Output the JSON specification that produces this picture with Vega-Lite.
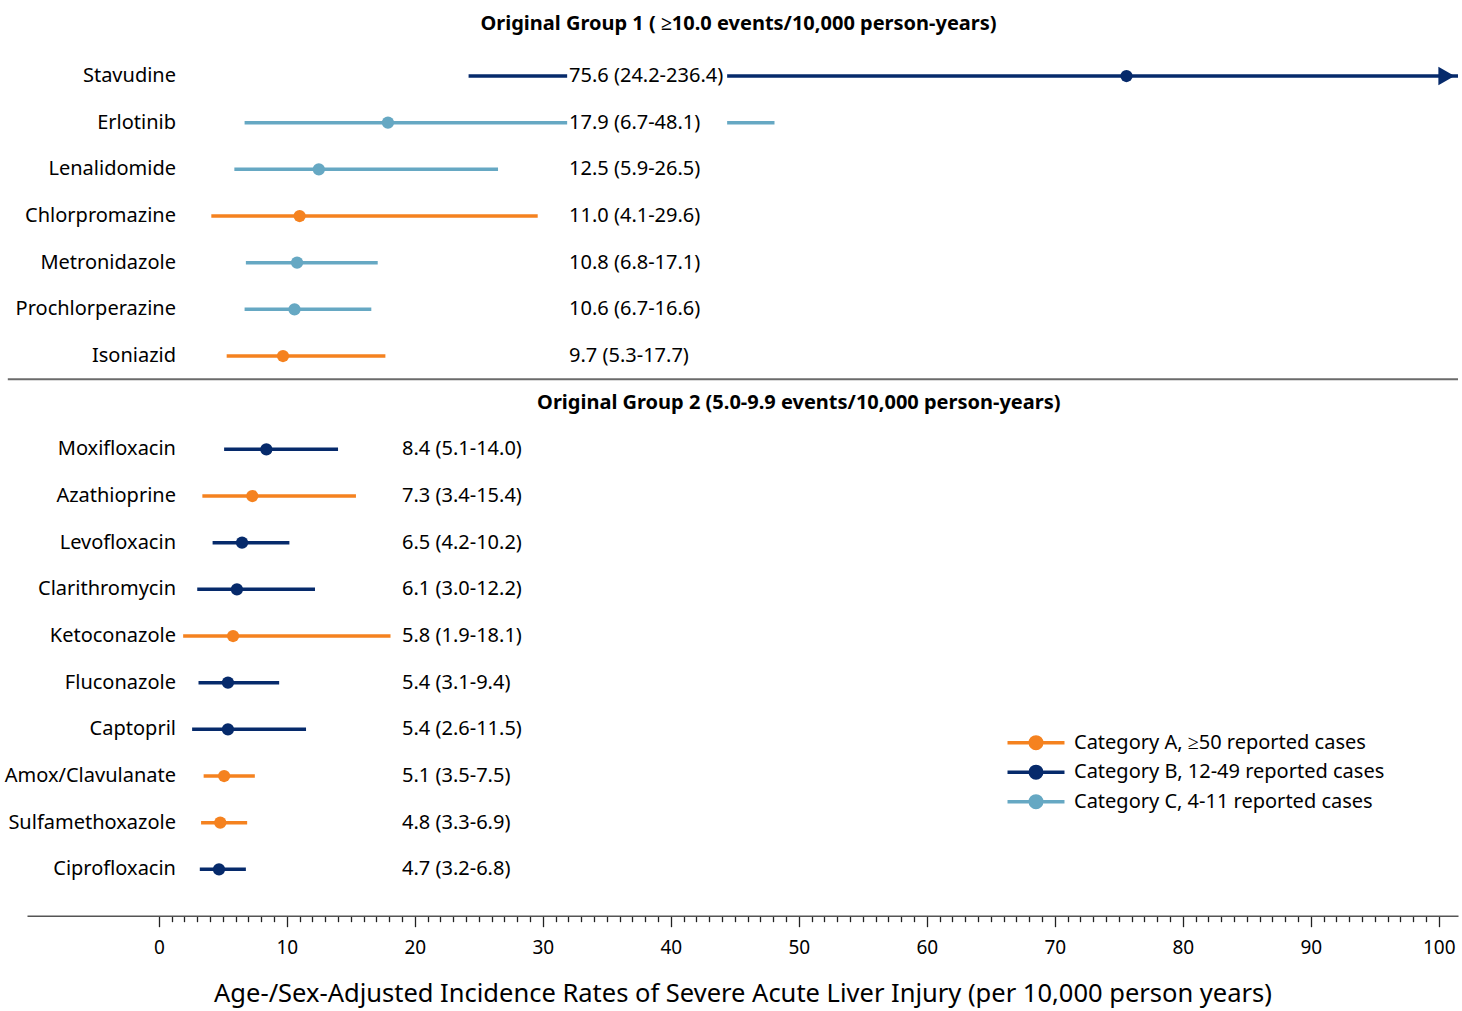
{
  "$schema": "https://vega.github.io/schema/vega-lite/v6.json",
  "width": 1431,
  "height": 840,
  "autosize": {"type": "none"},
  "padding": {"left": 27, "top": 52.67, "right": 4, "bottom": 118.33},
  "background": "white",
  "config": {
    "font": "Noto Sans",
    "view": {"stroke": null},
    "text": {"color": "black"}
  },
  "title": {
    "text": "Original Group 1 ( ≥10.0 events/10,000 person-years)",
    "fontSize": 20,
    "fontWeight": "bold",
    "color": "black",
    "anchor": "middle",
    "offset": 19,
    "dx": -4
  },
  "data": {
    "values": [
      {"drug": "Stavudine", "group": 1, "category": "Category B, 12-49 reported cases", "rate": 75.6, "lo": 24.2, "hi": 236.4},
      {"drug": "Erlotinib", "group": 1, "category": "Category C, 4-11 reported cases", "rate": 17.9, "lo": 6.7, "hi": 48.1},
      {"drug": "Lenalidomide", "group": 1, "category": "Category C, 4-11 reported cases", "rate": 12.5, "lo": 5.9, "hi": 26.5},
      {"drug": "Chlorpromazine", "group": 1, "category": "Category A, ≥50 reported cases", "rate": 11.0, "lo": 4.1, "hi": 29.6},
      {"drug": "Metronidazole", "group": 1, "category": "Category C, 4-11 reported cases", "rate": 10.8, "lo": 6.8, "hi": 17.1},
      {"drug": "Prochlorperazine", "group": 1, "category": "Category C, 4-11 reported cases", "rate": 10.6, "lo": 6.7, "hi": 16.6},
      {"drug": "Isoniazid", "group": 1, "category": "Category A, ≥50 reported cases", "rate": 9.7, "lo": 5.3, "hi": 17.7},
      {"drug": "Moxifloxacin", "group": 2, "category": "Category B, 12-49 reported cases", "rate": 8.4, "lo": 5.1, "hi": 14.0},
      {"drug": "Azathioprine", "group": 2, "category": "Category A, ≥50 reported cases", "rate": 7.3, "lo": 3.4, "hi": 15.4},
      {"drug": "Levofloxacin", "group": 2, "category": "Category B, 12-49 reported cases", "rate": 6.5, "lo": 4.2, "hi": 10.2},
      {"drug": "Clarithromycin", "group": 2, "category": "Category B, 12-49 reported cases", "rate": 6.1, "lo": 3.0, "hi": 12.2},
      {"drug": "Ketoconazole", "group": 2, "category": "Category A, ≥50 reported cases", "rate": 5.8, "lo": 1.9, "hi": 18.1},
      {"drug": "Fluconazole", "group": 2, "category": "Category B, 12-49 reported cases", "rate": 5.4, "lo": 3.1, "hi": 9.4},
      {"drug": "Captopril", "group": 2, "category": "Category B, 12-49 reported cases", "rate": 5.4, "lo": 2.6, "hi": 11.5},
      {"drug": "Amox/Clavulanate", "group": 2, "category": "Category A, ≥50 reported cases", "rate": 5.1, "lo": 3.5, "hi": 7.5},
      {"drug": "Sulfamethoxazole", "group": 2, "category": "Category A, ≥50 reported cases", "rate": 4.8, "lo": 3.3, "hi": 6.9},
      {"drug": "Ciprofloxacin", "group": 2, "category": "Category B, 12-49 reported cases", "rate": 4.7, "lo": 3.2, "hi": 6.8}
    ]
  },
  "transform": [
    {"calculate": "format(datum.rate, '.1f') + ' (' + format(datum.lo, '.1f') + '-' + format(datum.hi, '.1f') + ')'", "as": "label"}
  ],
  "layer": [
    {
      "transform": [{"filter": "datum.drug === 'Isoniazid'"}],
      "mark": {"type": "rule", "color": "#6b6b6b", "strokeWidth": 2},
      "encoding": {
        "y": {
          "field": "drug",
          "type": "nominal",
          "bandPosition": 1,
          "scale": {
            "domain": ["Stavudine", "Erlotinib", "Lenalidomide", "Chlorpromazine", "Metronidazole", "Prochlorperazine", "Isoniazid",
                       "Original Group 2 (5.0-9.9 events/10,000 person-years)",
                       "Moxifloxacin", "Azathioprine", "Levofloxacin", "Clarithromycin", "Ketoconazole", "Fluconazole", "Captopril", "Amox/Clavulanate", "Sulfamethoxazole", "Ciprofloxacin"],
            "paddingInner": 0,
            "paddingOuter": 0
          },
          "axis": null
        },
        "x": {
          "datum": -11.8,
          "type": "quantitative",
          "scale": {"domain": [-10.3, 101.5], "nice": false, "zero": false},
          "axis": {
            "title": "Age-/Sex-Adjusted Incidence Rates of Severe Acute Liver Injury (per 10,000 person years)",
            "titleFontSize": 25.5,
            "titleFontWeight": "normal",
            "titleColor": "black",
            "titlePadding": 24,
            "values": [0,1,2,3,4,5,6,7,8,9,10,11,12,13,14,15,16,17,18,19,20,21,22,23,24,25,26,27,28,29,30,31,32,33,34,35,36,37,38,39,40,41,42,43,44,45,46,47,48,49,50,51,52,53,54,55,56,57,58,59,60,61,62,63,64,65,66,67,68,69,70,71,72,73,74,75,76,77,78,79,80,81,82,83,84,85,86,87,88,89,90,91,92,93,94,95,96,97,98,99,100],
            "tickCount": 500,
            "format": "d",
            "labelExpr": "datum.value % 10 === 0 ? datum.label : ''",
            "labelFontSize": 19,
            "labelColor": "black",
            "labelPadding": 12,
            "labelOverlap": false,
            "labelFlush": false,
            "offset": 23,
            "domainColor": "#555555",
            "domainWidth": 1.5,
            "tickColor": "#222222",
            "tickWidth": 1.3,
            "tickSize": {"condition": {"test": "datum.value % 10 === 0", "value": 11}, "value": 6},
            "grid": false
          }
        },
        "x2": {"datum": 101.5}
      }
    },
    {
      "mark": {"type": "rule", "strokeWidth": 3.5, "clip": true},
      "encoding": {
        "y": {"field": "drug", "type": "nominal"},
        "x": {"field": "lo", "type": "quantitative"},
        "x2": {"field": "hi"},
        "color": {
          "field": "category",
          "type": "nominal",
          "scale": {
            "domain": ["Category A, ≥50 reported cases", "Category B, 12-49 reported cases", "Category C, 4-11 reported cases"],
            "range": ["#f5821f", "#062a6b", "#66a8c3"]
          },
          "legend": {
            "orient": "none",
            "legendX": 999,
            "legendY": 680,
            "title": null,
            "padding": 0,
            "labelFontSize": 20,
            "labelColor": "black",
            "labelLimit": 500,
            "labelOffset": 28,
            "rowPadding": 3.5,
            "symbolSize": 196,
            "symbolType": "M-4.07,0H4.07M0.82,0A0.82,0.82,0,1,1,-0.82,0A0.82,0.82,0,1,1,0.82,0Z",
            "symbolStrokeWidth": 3.5,
            "encode": {
              "symbols": {
                "update": {
                  "fill": {"scale": "color", "field": "value"},
                  "stroke": {"scale": "color", "field": "value"},
                  "strokeWidth": {"value": 3.5},
                  "opacity": {"value": 1},
                  "fillOpacity": {"value": 1},
                  "shape": {"value": "M-4.07,0H4.07M0.82,0A0.82,0.82,0,1,1,-0.82,0A0.82,0.82,0,1,1,0.82,0Z"},
                  "size": {"value": 196}
                }
              }
            }
          }
        }
      }
    },
    {
      "transform": [{"filter": "datum.group === 1 && datum.lo < 32 && datum.hi > 32"}],
      "mark": {"type": "rule", "color": "white", "strokeWidth": 10},
      "encoding": {
        "y": {"field": "drug", "type": "nominal"},
        "x": {"datum": 31.9, "type": "quantitative"},
        "x2": {"datum": 44.4}
      }
    },
    {
      "transform": [{"filter": "datum.hi > 101.5"}],
      "mark": {"type": "point", "shape": "triangle-right", "filled": true, "opacity": 1, "size": 350},
      "encoding": {
        "y": {"field": "drug", "type": "nominal"},
        "x": {"datum": 100.6, "type": "quantitative"},
        "color": {"field": "category", "type": "nominal"}
      }
    },
    {
      "mark": {"type": "point", "filled": true, "opacity": 1, "size": 150},
      "encoding": {
        "y": {"field": "drug", "type": "nominal"},
        "x": {"field": "rate", "type": "quantitative"},
        "color": {"field": "category", "type": "nominal"}
      }
    },
    {
      "mark": {"type": "text", "align": "right", "baseline": "middle", "fontSize": 20},
      "encoding": {
        "y": {"field": "drug", "type": "nominal"},
        "x": {"datum": 1.34, "type": "quantitative"},
        "text": {"field": "drug"}
      }
    },
    {
      "transform": [{"filter": "datum.group === 1"}],
      "mark": {"type": "text", "align": "left", "baseline": "middle", "fontSize": 20},
      "encoding": {
        "y": {"field": "drug", "type": "nominal"},
        "x": {"datum": 32.05, "type": "quantitative"},
        "text": {"field": "label"}
      }
    },
    {
      "transform": [{"filter": "datum.group === 2"}],
      "mark": {"type": "text", "align": "left", "baseline": "middle", "fontSize": 20},
      "encoding": {
        "y": {"field": "drug", "type": "nominal"},
        "x": {"datum": 19.0, "type": "quantitative"},
        "text": {"field": "label"}
      }
    },
    {
      "data": {"values": [{"heading": "Original Group 2 (5.0-9.9 events/10,000 person-years)"}]},
      "mark": {"type": "text", "align": "center", "baseline": "middle", "fontSize": 20, "fontWeight": "bold"},
      "encoding": {
        "y": {"field": "heading", "type": "nominal"},
        "x": {"datum": 50.0, "type": "quantitative"},
        "text": {"field": "heading"}
      }
    }
  ]
}
